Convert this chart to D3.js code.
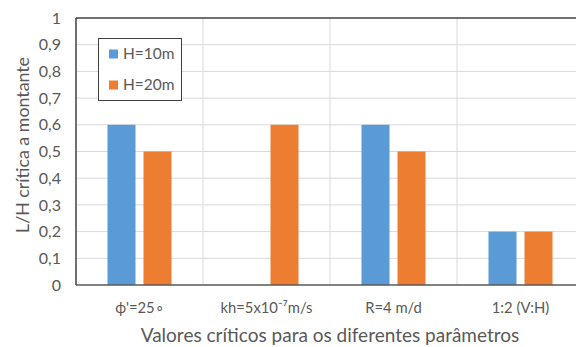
<!DOCTYPE html>
<html>
<head>
<meta charset="utf-8">
<script src="https://cdn.jsdelivr.net/npm/d3@7"></script>
<style>
  html, body { margin: 0; padding: 0; background: #fff; }
  svg { display: block; font-family: Lato, "Open Sans", sans-serif; }
</style>
</head>
<body>
<svg id="chart" width="576" height="347"></svg>
<script>
// Critical L/H ratios for each parameter and embankment height
const categories = ["ϕ'=25∘", "kh=5x10⁻⁷m/s", "R=4 m/d", "1:2 (V:H)"];
const seriesNames = ["H=10m", "H=20m"];
const h10 = [0.6, null, 0.6, 0.2];
const h20 = [0.5, 0.6, 0.5, 0.2];
const yTicks = [0, 0.1, 0.2, 0.3, 0.4, 0.5, 0.6, 0.7, 0.8, 0.9, 1];
const colors = ["#5B9BD5", "#ED7D31"];

(function () {
const svg = d3.select("#chart");
const plotLeft = 76, plotRight = 584, plotTop = 18, plotBottom = 285;
const textColor = "#595959";

const x = d3.scaleBand().domain(categories).range([plotLeft, plotRight]).padding(0);
const x1 = d3.scaleBand().domain(seriesNames)
  .range([x.bandwidth() / 2 - 32, x.bandwidth() / 2 + 32]).paddingInner(8 / 36);
const y = d3.scaleLinear().domain([0, 1]).range([plotBottom, plotTop]);

// horizontal gridlines
svg.append("g").selectAll("line").data(yTicks.filter(t => t > 0 && t < 1)).join("line")
  .attr("x1", plotLeft).attr("x2", plotRight)
  .attr("y1", d => y(d)).attr("y2", d => y(d))
  .attr("stroke", "#d9d9d9").attr("stroke-width", 1);

// category separators
svg.append("g").selectAll("line").data(categories.slice(1)).join("line")
  .attr("x1", d => x(d)).attr("x2", d => x(d))
  .attr("y1", plotTop).attr("y2", plotBottom)
  .attr("stroke", "#d9d9d9").attr("stroke-width", 1);

// bars
const rows = categories.map((c, i) => ({ cat: c, vals: [h10[i], h20[i]] }));
const groups = svg.append("g").selectAll("g").data(rows).join("g")
  .attr("transform", d => `translate(${x(d.cat)},0)`);
groups.selectAll("rect")
  .data(d => d.vals.map((v, j) => ({ name: seriesNames[j], v, j })).filter(e => e.v != null))
  .join("rect")
  .attr("x", d => x1(d.name))
  .attr("width", x1.bandwidth())
  .attr("y", d => y(d.v))
  .attr("height", d => y(0) - y(d.v))
  .attr("fill", d => colors[d.j]);

// frame lines: top, left and baseline
svg.append("line").attr("x1", plotLeft).attr("x2", plotRight).attr("y1", y(1)).attr("y2", y(1))
  .attr("stroke", "#404040").attr("stroke-width", 1.5);
svg.append("line").attr("x1", plotLeft).attr("x2", plotLeft).attr("y1", plotTop).attr("y2", plotBottom)
  .attr("stroke", "#404040").attr("stroke-width", 1.5);
svg.append("line").attr("x1", plotLeft).attr("x2", plotRight).attr("y1", plotBottom).attr("y2", plotBottom)
  .attr("stroke", "#595959").attr("stroke-width", 1.5);

// y axis tick labels
const fmt = d => String(d).replace(".", ",");
svg.append("g").selectAll("text").data(yTicks).join("text")
  .attr("x", 61).attr("y", d => y(d)).attr("dy", "0.35em")
  .attr("text-anchor", "end").attr("font-size", 16).attr("fill", textColor)
  .text(fmt);

// x category labels
svg.append("g").selectAll("text").data(categories).join("text")
  .attr("x", d => x(d) + x.bandwidth() / 2).attr("y", 312.5)
  .attr("text-anchor", "middle").attr("font-size", 14.8).attr("fill", textColor)
  .text(d => d);

// axis titles
svg.append("text").attr("x", 330).attr("y", 341.5)
  .attr("text-anchor", "middle").attr("font-size", 19).attr("fill", textColor)
  .text("Valores críticos para os diferentes parâmetros");
svg.append("text").attr("transform", "translate(29,145) rotate(-90)")
  .attr("text-anchor", "middle").attr("font-size", 17.8).attr("fill", textColor)
  .text("L/H crítica a montante");

// legend
const lg = svg.append("g");
lg.append("rect").attr("x", 98.5).attr("y", 38.5).attr("width", 83).attr("height", 62)
  .attr("fill", "#fff").attr("stroke", "#404040").attr("stroke-width", 1);
seriesNames.forEach((n, i) => {
  const cy = 54 + i * 31;
  lg.append("rect").attr("x", 109).attr("y", cy - 4.5).attr("width", 9).attr("height", 9)
    .attr("fill", colors[i]);
  lg.append("text").attr("x", 123).attr("y", cy).attr("dy", "0.35em")
    .attr("font-size", 15.5).attr("fill", textColor).text(n);
});
})();
</script>
</body>
</html>
